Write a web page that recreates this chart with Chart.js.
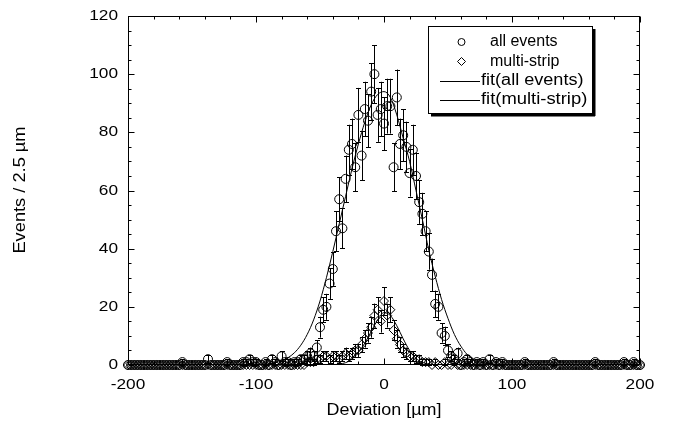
<!DOCTYPE html>
<html>
<head>
<meta charset="utf-8">
<script src="https://cdn.jsdelivr.net/npm/chart.js@4.4.0/dist/chart.umd.min.js"></script>
<style>
html, body { margin: 0; padding: 0; background: #fff; }
canvas { display: block; }
</style>
</head>
<body>
<canvas id="chart" width="678" height="428"></canvas>
<script>
// bin centres, 2.5 um bins
var binCenters = [
    -200, -197.5, -195, -192.5, -190, -187.5, -185, -182.5, -180, -177.5,
    -175, -172.5, -170, -167.5, -165, -162.5, -160, -157.5, -155, -152.5,
    -150, -147.5, -145, -142.5, -140, -137.5, -135, -132.5, -130, -127.5,
    -125, -122.5, -120, -117.5, -115, -112.5, -110, -107.5, -105, -102.5,
    -100, -97.5, -95, -92.5, -90, -87.5, -85, -82.5, -80, -77.5,
    -75, -72.5, -70, -67.5, -65, -62.5, -60, -57.5, -55, -52.5,
    -50, -47.5, -45, -42.5, -40, -37.5, -35, -32.5, -30, -27.5,
    -25, -22.5, -20, -17.5, -15, -12.5, -10, -7.5, -5, -2.5,
    0, 2.5, 5, 7.5, 10, 12.5, 15, 17.5, 20, 22.5,
    25, 27.5, 30, 32.5, 35, 37.5, 40, 42.5, 45, 47.5,
    50, 52.5, 55, 57.5, 60, 62.5, 65, 67.5, 70, 72.5,
    75, 77.5, 80, 82.5, 85, 87.5, 90, 92.5, 95, 97.5,
    100, 102.5, 105, 107.5, 110, 112.5, 115, 117.5, 120, 122.5,
    125, 127.5, 130, 132.5, 135, 137.5, 140, 142.5, 145, 147.5,
    150, 152.5, 155, 157.5, 160, 162.5, 165, 167.5, 170, 172.5,
    175, 177.5, 180, 182.5, 185, 187.5, 190, 192.5, 195, 197.5,
    200
];

var allEvents = [
    0, 0, 0, 0, 0, 0, 0, 0, 0, 0,
    0, 0, 0, 0, 0, 0, 0, 1, 0, 0,
    0, 0, 0, 0, 0, 2, 0, 0, 0, 0,
    0, 1, 0, 0, 0, 0, 1, 1, 2, 1,
    1, 0, 0, 1, 0, 2, 1, 0, 3, 1,
    1, 0, 1, 1, 2, 2, 3, 4, 3, 6,
    13, 19, 20, 28, 33, 46, 57, 47, 64, 74,
    76, 68, 86, 72, 88, 84, 94, 100, 86, 88,
    83, 89, 89, 68, 92, 76, 79, 75, 66, 74,
    65, 56, 52, 46, 39, 31, 21, 20, 11, 10,
    5, 3, 2, 4, 0, 1, 2, 1, 0, 1,
    0, 1, 0, 2, 0, 1, 0, 1, 0, 0,
    0, 0, 0, 0, 1, 0, 0, 0, 0, 0,
    0, 0, 0, 1, 0, 0, 0, 0, 0, 0,
    0, 0, 0, 0, 0, 0, 1, 0, 0, 0,
    0, 0, 0, 0, 0, 1, 0, 0, 1, 0,
    0
];

var multiStrip = [
    0, 0, 0, 0, 0, 0, 0, 0, 0, 0,
    0, 0, 0, 0, 0, 0, 0, 0, 0, 0,
    0, 0, 0, 0, 0, 0, 0, 0, 0, 0,
    0, 0, 0, 0, 0, 0, 0, 0, 0, 0,
    0, 0, 0, 0, 0, 0, 0, 0, 0, 0,
    0, 0, 0, 0, 0, 0, 1, 1, 1, 2,
    2, 3, 3, 2, 3, 3, 2, 3, 4, 3,
    4, 5, 5, 7, 9, 11, 13, 17, 19, 15,
    22, 17, 19, 12, 9, 7, 5, 4, 3, 3,
    2, 2, 1, 1, 1, 0, 1, 0, 0, 1,
    0, 0, 1, 0, 0, 0, 0, 0, 0, 0,
    0, 0, 0, 0, 0, 0, 0, 0, 0, 0,
    0, 0, 0, 0, 0, 0, 0, 0, 0, 0,
    0, 0, 0, 0, 0, 0, 0, 0, 0, 0,
    0, 0, 0, 0, 0, 0, 0, 0, 0, 0,
    0, 0, 0, 0, 0, 0, 0, 0, 0, 0,
    0
];

// fit curves every 5 um
var fitAllX = [
    -100, -95, -90, -85, -80, -75, -70, -65, -60, -55,
    -50, -45, -40, -35, -30, -25, -20, -15, -10, -5,
    0, 5, 10, 15, 20, 25, 30, 35, 40, 45,
    50, 55, 60, 65, 70, 75, 80, 85, 90, 95,
    100
];
var fitAllEvents = [
    0.1, 0.2, 0.4, 0.8, 1.4, 2.5, 4.2, 6.8, 10.5, 15.5,
    22, 30, 39, 48.5, 58, 67.5, 76, 83.5, 89.5, 93,
    94, 92, 86, 78, 70, 60, 50, 39.5, 30.5, 22.5,
    16, 10.5, 6.5, 3.6, 1.9, 1.0, 0.5, 0.25, 0.12, 0.06,
    0.03
];
var fitMultiX = [
    -50, -45, -40, -35, -30, -25, -20, -15, -10, -5,
    0, 5, 10, 15, 20, 25, 30, 35, 40, 45,
    50
];
var fitMultiStrip = [
    0, 0.05, 0.1, 0.3, 0.8, 2, 4.3, 7.5, 11.5, 15.5,
    18, 17, 13.5, 9, 5, 2.3, 0.9, 0.3, 0.1, 0.05,
    0
];

var xTicks = [-200, -100, 0, 100, 200];
var yTicks = [0, 20, 40, 60, 80, 100, 120];

var FONT = "'Liberation Sans', Arial, sans-serif";

function toPoints(xs, ys) {
    return xs.map(function (x, i) { return { x: x, y: ys[i] }; });
}

// the original lettering is a bit wider than Arial, so stretch it a little
function wideText(ctx, text, x, y, align, sx) {
    ctx.save();
    ctx.translate(x, y);
    ctx.scale(sx, 1);
    ctx.textAlign = align;
    ctx.fillText(text, 0, 0);
    ctx.restore();
}

// frame, inward ticks, error bars, labels and the boxed legend
var decorations = {
    id: 'decorations',
    beforeDatasetsDraw: function (chart) {
        var ctx = chart.ctx;
        var xs = chart.scales.x, ys = chart.scales.y;
        ctx.save();
        ctx.strokeStyle = '#000';
        ctx.lineWidth = 1;
        [allEvents, multiStrip].forEach(function (series) {
            series.forEach(function (v, i) {
                if (v <= 0) return;
                var err = Math.sqrt(v);
                var px = Math.round(xs.getPixelForValue(binCenters[i])) + 0.5;
                var top = ys.getPixelForValue(v + err);
                var bot = ys.getPixelForValue(Math.max(v - err, 0));
                ctx.beginPath();
                ctx.moveTo(px, top);
                ctx.lineTo(px, bot);
                ctx.moveTo(px - 2.5, Math.round(top) + 0.5);
                ctx.lineTo(px + 2.5, Math.round(top) + 0.5);
                ctx.moveTo(px - 2.5, Math.round(bot) + 0.5);
                ctx.lineTo(px + 2.5, Math.round(bot) + 0.5);
                ctx.stroke();
            });
        });
        ctx.restore();
    },
    afterDraw: function (chart) {
        var ctx = chart.ctx;
        var a = chart.chartArea;
        var xs = chart.scales.x, ys = chart.scales.y;
        ctx.save();
        ctx.strokeStyle = '#000';
        ctx.lineWidth = 1;
        var L = Math.round(a.left) + 0.5, R = Math.round(a.right) - 0.5;
        var T = Math.round(a.top) + 0.5, B = Math.round(a.bottom) - 0.5;
        ctx.strokeRect(L, T, R - L, B - T);

        ctx.beginPath();
        var v, p, len;
        for (v = -200; v <= 200; v += 20) {
            p = Math.round(xs.getPixelForValue(v)) + 0.5;
            len = v % 100 === 0 ? 6 : 3;
            ctx.moveTo(p, B); ctx.lineTo(p, B - len);
            ctx.moveTo(p, T); ctx.lineTo(p, T + len);
        }
        for (v = 0; v <= 120; v += 5) {
            p = Math.round(ys.getPixelForValue(v)) + 0.5;
            len = v % 20 === 0 ? 6 : 3;
            ctx.moveTo(L, p); ctx.lineTo(L + len, p);
            ctx.moveTo(R, p); ctx.lineTo(R - len, p);
        }
        ctx.stroke();

        // tick labels
        ctx.fillStyle = '#000';
        ctx.font = '15px ' + FONT;
        ctx.textBaseline = 'middle';
        xTicks.forEach(function (t) {
            wideText(ctx, String(t), xs.getPixelForValue(t), 385, 'center', 1.15);
        });
        yTicks.forEach(function (t) {
            wideText(ctx, String(t), 118, ys.getPixelForValue(t), 'right', 1.15);
        });

        // axis titles
        ctx.font = '16px ' + FONT;
        wideText(ctx, 'Deviation [\u00b5m]', (a.left + a.right) / 2, 411, 'center', 1.12);
        ctx.save();
        ctx.translate(21, 190);
        ctx.rotate(-Math.PI / 2);
        wideText(ctx, 'Events / 2.5 \u00b5m', 0, 0, 'center', 1.14);
        ctx.restore();

        // legend box with drop shadow
        var bx = 428.5, by = 26.5, bw = 164, bh = 87;
        ctx.fillRect(bx + 2.5, by + bh, bw, 3);
        ctx.fillRect(bx + bw, by + 2.5, 3, bh);
        ctx.fillStyle = '#fff';
        ctx.fillRect(bx, by, bw, bh);
        ctx.strokeRect(bx, by, bw, bh);

        ctx.fillStyle = '#000';
        ctx.font = '16px ' + FONT;
        ctx.beginPath();
        ctx.arc(461.5, 42, 3.5, 0, Math.PI * 2);
        ctx.stroke();
        wideText(ctx, 'all events', 490, 42, 'left', 1);

        ctx.beginPath();
        ctx.moveTo(461.5, 57.5); ctx.lineTo(465.5, 61.5);
        ctx.lineTo(461.5, 65.5); ctx.lineTo(457.5, 61.5);
        ctx.closePath();
        ctx.stroke();
        wideText(ctx, 'multi-strip', 490, 61.5, 'left', 1);

        ctx.beginPath();
        ctx.moveTo(440, 81.5); ctx.lineTo(480, 81.5);
        ctx.moveTo(440, 100.5); ctx.lineTo(480, 100.5);
        ctx.stroke();
        wideText(ctx, 'fit(all events)', 481, 81, 'left', 1.13);
        wideText(ctx, 'fit(multi-strip)', 481, 100, 'left', 1.15);
        ctx.restore();
    }
};

var ctx = document.getElementById('chart');

new Chart(ctx, {
    type: 'line',
    data: {
        datasets: [
            {
                label: 'fit(all events)',
                data: toPoints(fitAllX, fitAllEvents),
                borderColor: '#000',
                borderWidth: 1,
                pointRadius: 0,
                fill: false,
                cubicInterpolationMode: 'monotone'
            },
            {
                label: 'fit(multi-strip)',
                data: toPoints(fitMultiX, fitMultiStrip),
                borderColor: '#000',
                borderWidth: 1,
                pointRadius: 0,
                fill: false,
                cubicInterpolationMode: 'monotone'
            },
            {
                label: 'all events',
                data: toPoints(binCenters, allEvents),
                showLine: false,
                pointStyle: 'circle',
                pointRadius: 4.5,
                pointBorderWidth: 1,
                pointBorderColor: '#000',
                pointBackgroundColor: 'rgba(0,0,0,0)',
                clip: false
            },
            {
                label: 'multi-strip',
                data: toPoints(binCenters, multiStrip),
                showLine: false,
                pointStyle: 'rectRot',
                pointRadius: 4.5,
                pointBorderWidth: 1,
                pointBorderColor: '#000',
                pointBackgroundColor: 'rgba(0,0,0,0)',
                clip: false
            }
        ]
    },
    options: {
        responsive: false,
        animation: false,
        devicePixelRatio: 1,
        layout: { padding: { top: 16, right: 38, left: 0, bottom: 0 } },
        plugins: {
            legend: { display: false },
            tooltip: { enabled: false }
        },
        scales: {
            x: {
                type: 'linear',
                min: -200,
                max: 200,
                afterBuildTicks: function (s) {
                    s.ticks = xTicks.map(function (v) { return { value: v }; });
                },
                afterFit: function (s) { s.height = 63; },
                grid: { display: false, drawTicks: false },
                border: { display: false },
                ticks: { display: false }
            },
            y: {
                type: 'linear',
                min: 0,
                max: 120,
                afterBuildTicks: function (s) {
                    s.ticks = yTicks.map(function (v) { return { value: v }; });
                },
                afterFit: function (s) { s.width = 128; },
                grid: { display: false, drawTicks: false },
                border: { display: false },
                ticks: { display: false }
            }
        }
    },
    plugins: [decorations]
});
</script>
</body>
</html>
